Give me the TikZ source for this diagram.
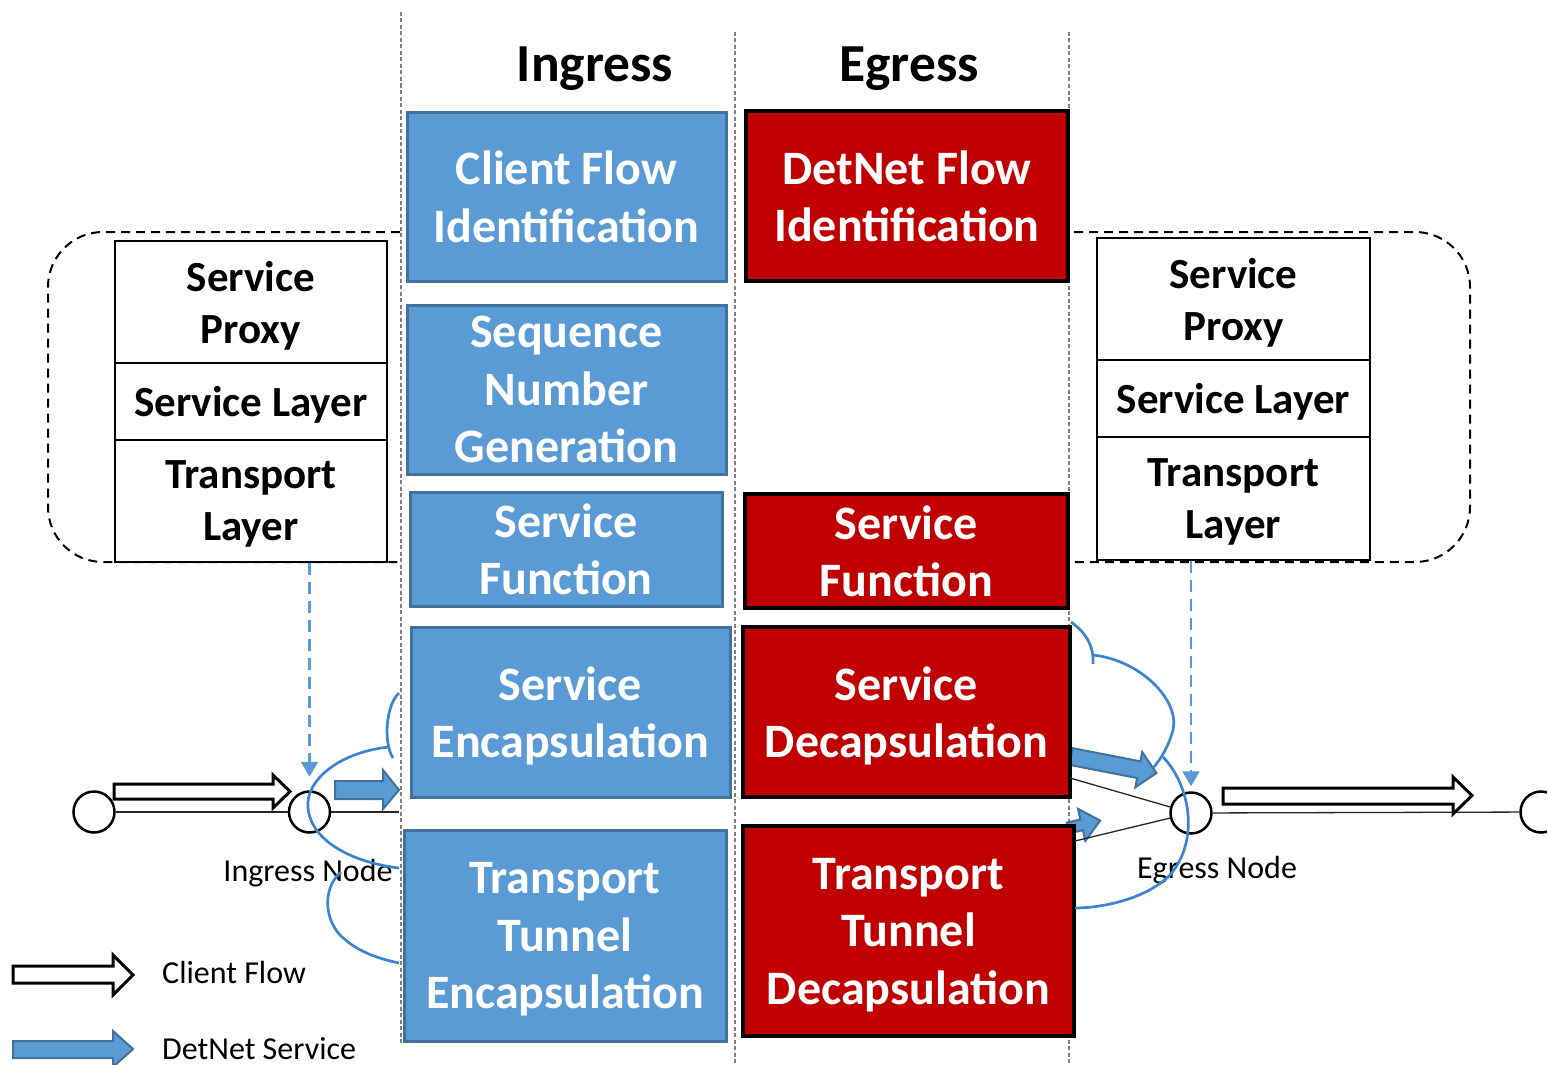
\documentclass[tikz,border=0pt]{standalone}
\usepackage{fontspec}
\setmainfont{Carlito}
\usetikzlibrary{arrows.meta}
\definecolor{boxblue}{HTML}{5B9BD5}
\definecolor{blueedge}{HTML}{41719C}
\definecolor{boxred}{HTML}{C00000}
\definecolor{curveblue}{HTML}{3D85CF}
\definecolor{divgray}{HTML}{7F7F7F}
\begin{document}
\begin{tikzpicture}[x=1pt,y=-1pt,
  bluebox/.style={rectangle, fill=boxblue, draw=blueedge, line width=3pt,
    text=white, align=center, inner sep=0pt, text depth=0pt,
    font=\fontsize{48}{57.5}\selectfont\bfseries},
  redbox/.style={rectangle, fill=boxred, draw=black, line width=3.5pt,
    text=white, align=center, inner sep=0pt, text depth=0pt,
    font=\fontsize{48}{57.5}\selectfont\bfseries},
  layerbox/.style={rectangle, fill=white, draw=black, line width=2.5pt,
    align=center, inner sep=0pt, minimum width=272, text depth=0pt,
    font=\fontsize{43}{52}\selectfont\bfseries},
  coltitle/.style={font=\fontsize{53.5}{60}\selectfont\bfseries, text depth=0pt},
  nodetext/.style={font=\fontsize{32}{36}\selectfont, inner sep=0pt},
  netnode/.style={circle, draw=black, line width=2.5pt, minimum size=41, inner sep=0pt},
  wire/.style={draw=black!85, line width=1.3pt},
  divider/.style={draw=divgray, line width=1.6pt, dash pattern=on 4pt off 2.5pt},
  systemarea/.style={draw=black, line width=2pt, dash pattern=on 9pt off 6pt, rounded corners=55pt},
  flowarrow/.style={fill=white, draw=black, line width=3pt, line join=miter},
  servicearrow/.style={fill=boxblue, draw=blueedge, line width=2pt, line join=miter},
  bendline/.style={draw=curveblue, line width=2.7pt},
  dasharrow/.style={draw=boxblue, line width=2.5pt, dash pattern=on 12pt off 7pt,
    -{Triangle[width=17pt,length=15pt]}}
]
\useasboundingbox (0,0) rectangle (1547,1065);

% column separators
\draw[divider] (401,12) -- (401,1045);
\draw[divider] (735,32) -- (735,1065);
\draw[divider] (1069,32) -- (1069,1065);

% end-system areas
\draw[systemarea] (400,232) -- (48,232) -- (48,562) -- (400,562);
\draw[systemarea] (1074,232) -- (1470,232) -- (1470,562) -- (1074,562);

% column titles
\node[coltitle] (ti) at (595,64) {Ingress};
\node[coltitle] (te) at (909,64) {Egress};

% ingress functions
\node[bluebox, minimum width=319, minimum height=169] (cfi) at (566.5,196.5) {Client Flow\\Identification};
\node[bluebox, minimum width=319, minimum height=169] (sng) at (566.5,389.5) {Sequence\\Number\\Generation};
\node[bluebox, minimum width=312, minimum height=114] (sfi) at (566,549) {Service\\Function};
\node[bluebox, minimum width=319, minimum height=170] (sen) at (570.5,712) {Service\\Encapsulation};
\node[bluebox, minimum width=322, minimum height=211] (tte) at (565,935.5) {Transport\\Tunnel\\Encapsulation};

% egress service arrows (partly under the boxes)
\begin{scope}[shift={(1071,756.5)}, rotate=-11]
  \draw[servicearrow] (0,-8.5) -- (69,-8.5) -- (69,-18) -- (87,0) -- (69,18) -- (69,8.5) -- (0,8.5) -- cycle;
\end{scope}
\begin{scope}[shift={(1068,828)}, rotate=13]
  \draw[servicearrow] (0,-5.5) -- (14,-5.5) -- (14,-16.5) -- (33,0) -- (14,16.5) -- (14,5.5) -- (0,5.5) -- cycle;
\end{scope}

% egress functions
\node[redbox, minimum width=322, minimum height=170] (dfi) at (907,196) {DetNet Flow\\Identification};
\node[redbox, minimum width=323, minimum height=114] (sfe) at (906.5,551) {Service\\Function};
\node[redbox, minimum width=327, minimum height=170] (sde) at (906.5,712) {Service\\Decapsulation};
\node[redbox, minimum width=331, minimum height=210] (ttd) at (908.5,931) {Transport\\Tunnel\\Decapsulation};

% layer stacks
\node[layerbox, minimum height=122] (lsp) at (251,302) {Service\\Proxy};
\node[layerbox, minimum height=77] (lsl) at (251,401.5) {Service Layer};
\node[layerbox, minimum height=122] (ltl) at (251,501) {Transport\\Layer};
\node[layerbox, minimum width=273, minimum height=122] (rsp) at (1233.5,299) {Service\\Proxy};
\node[layerbox, minimum width=273, minimum height=77] (rsl) at (1233.5,398.5) {Service Layer};
\node[layerbox, minimum width=273, minimum height=123] (rtl) at (1233.5,498.5) {Transport\\Layer};

% network nodes and links
\node[netnode] (n0) at (94,812) {};
\node[netnode] (ing) at (309.5,812) {};
\node[netnode] (egr) at (1191,813) {};
\node[netnode] (n3) at (1541,812) {};
\coordinate (ingend) at (399,812);
\coordinate (eu) at (1070,778);
\coordinate (el) at (1075,841);
\draw[wire] (n0) -- (ing);
\draw[wire] (ing) -- (ingend);
\draw[wire] (egr) -- (n3);
\draw[wire] (eu) -- (egr);
\draw[wire] (el) -- (egr);

\node[nodetext] (lin) at (308,873) {Ingress Node};
\node[nodetext] (leg) at (1217,870) {Egress Node};

% client flow arrows
\draw[flowarrow] (114,784) -- (273,784) -- (273,775) -- (290,791.5) -- (273,808) -- (273,799) -- (114,799) -- cycle;
\draw[flowarrow] (1223,788) -- (1453,788) -- (1453,777) -- (1472,795.5) -- (1453,814) -- (1453,804) -- (1223,804) -- cycle;

% ingress service arrow
\draw[servicearrow] (335,781) -- (383,781) -- (383,770) -- (399,790) -- (383,809) -- (383,799) -- (335,799) -- cycle;

% mapping from the layer stacks to the nodes
\draw[dasharrow, shorten >=13.5pt] (ltl.south -| ing) -- (ing);
\draw[dasharrow, shorten >=5pt] (rtl.south -| egr) -- (egr);

% processing loops at the ingress node
\draw[bendline] (399,693) .. controls (386,705) and (383,742) .. (393,758);
\draw[bendline] (389,747) .. controls (340,752) and (305,780) .. (308,808)
  .. controls (311,840) and (350,862) .. (399,868);
\draw[bendline] (341,872) .. controls (325,885) and (322,915) .. (340,935)
  .. controls (355,950) and (375,958) .. (399,963);

% processing loops at the egress node
\draw[bendline] (1071,622) .. controls (1085,632) and (1094,645) .. (1093,664);
\draw[bendline] (1093,655) .. controls (1140,660) and (1180,700) .. (1173,730)
  .. controls (1168,748) and (1160,760) .. (1153,768);
\draw[bendline] (1163,757) .. controls (1190,785) and (1200,840) .. (1170,875)
  .. controls (1145,900) and (1100,908) .. (1075,908);

% legend
\draw[flowarrow] (13,966) -- (113,966) -- (113,955) -- (133,975) -- (113,995) -- (113,983) -- (13,983) -- cycle;
\draw[servicearrow] (13,1041) -- (113,1041) -- (113,1031) -- (133,1049) -- (113,1067) -- (113,1058) -- (13,1058) -- cycle;
\node[nodetext, anchor=west] (lcf) at (162,972) {Client Flow};
\node[nodetext, anchor=west] (lds) at (162,1049) {DetNet Service};
\end{tikzpicture}
\end{document}
